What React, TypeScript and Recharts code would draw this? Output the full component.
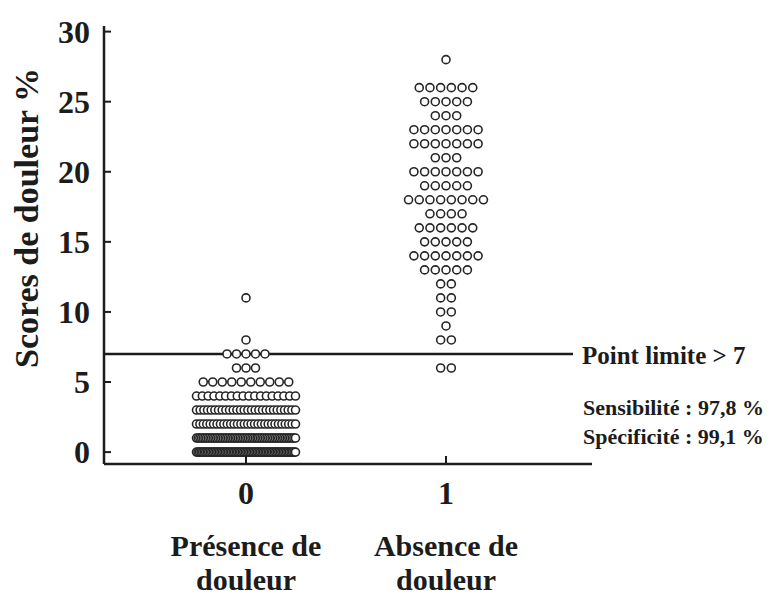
import React from 'react';
import {
  ScatterChart,
  Scatter,
  XAxis,
  YAxis,
  ReferenceLine
} from 'recharts';

// groups on the x axis
const categories = [0, 1];
const categoryLabels = [
  ['Présence de', 'douleur'],
  ['Absence de', 'douleur']
];

// pain scores and how many patients had each score, per group
const scoresPresence = [0, 1, 2, 3, 4, 5, 6, 7, 8, 11];
const countsPresence = [66, 60, 30, 28, 18, 10, 3, 5, 1, 1];
const scoresAbsence = [6, 8, 9, 10, 11, 12, 13, 14, 15, 16, 17, 18, 19, 20, 21, 22, 23, 24, 25, 26, 28];
const countsAbsence = [2, 2, 1, 2, 2, 2, 5, 7, 5, 6, 4, 8, 5, 7, 3, 7, 7, 3, 5, 6, 1];

const yTicks = [0, 5, 10, 15, 20, 25, 30];
const cutoff = 7;
const cutoffLabel = 'Point limite > 7';
const statLines = ['Sensibilité : 97,8 %', 'Spécificité : 99,1 %'];

const FONT = '"Liberation Serif", "Times New Roman", serif';
const INK = '#1c1c1c';

// dot plot layout: spread identical scores side by side around the group centre
const PX_PER_UNIT = 200;
const spreadDots = (group: number, scores: number[], counts: number[], step: number, maxSpan: number) => {
  const pts: { x: number; y: number }[] = [];
  scores.forEach((score, i) => {
    const n = counts[i];
    const gap = n > 1 ? Math.min(step, maxSpan / (n - 1)) : 0;
    for (let k = 0; k < n; k++) {
      pts.push({ x: group + ((k - (n - 1) / 2) * gap) / PX_PER_UNIT, y: score });
    }
  });
  return pts;
};

const presenceData = spreadDots(categories[0], scoresPresence, countsPresence, 9.5, 99);
const absenceData = spreadDots(categories[1], scoresAbsence, countsAbsence, 10.7, 99);

const Dot = (props: any) => {
  const { cx, cy } = props;
  if (cx == null || cy == null) return null;
  return <circle cx={cx} cy={cy} r={4} fill="#fff" stroke="#262626" strokeWidth={1.6} />;
};

const YTick = ({ x, y, payload }: any) => (
  <g>
    <line x1={x} x2={x + 7} y1={y} y2={y} stroke={INK} strokeWidth={2} />
    <text
      x={x - 14}
      y={y}
      textAnchor="end"
      dominantBaseline="central"
      fontFamily={FONT}
      fontWeight="bold"
      fontSize={32}
      fill={INK}
    >
      {payload.value}
    </text>
  </g>
);

const XTick = ({ x, y, payload }: any) => {
  const lines = categoryLabels[payload.value] || [];
  return (
    <g>
      <line x1={x} x2={x} y1={y} y2={y - 8} stroke={INK} strokeWidth={2} />
      <text
        x={x}
        y={y + 29}
        textAnchor="middle"
        dominantBaseline="central"
        fontFamily={FONT}
        fontWeight="bold"
        fontSize={32}
        fill={INK}
      >
        {payload.value}
      </text>
      {lines.map((l, i) => (
        <text
          key={l + i}
          x={x}
          y={y + 81 + i * 34}
          textAnchor="middle"
          dominantBaseline="central"
          fontFamily={FONT}
          fontWeight="bold"
          fontSize={30}
          fill={INK}
        >
          {l}
        </text>
      ))}
    </g>
  );
};

const CutoffLabel = ({ viewBox }: any) => {
  const endX = viewBox.x + viewBox.width + 9;
  const lineY = viewBox.y;
  return (
    <g fontFamily={FONT} fontWeight="bold" fill={INK}>
      <text x={endX} y={lineY + 2} dominantBaseline="central" fontSize={25}>
        {cutoffLabel}
      </text>
      {statLines.map((s, i) => (
        <text key={s} x={endX + 1} y={lineY + 54 + i * 29} dominantBaseline="central" fontSize={22}>
          {s}
        </text>
      ))}
    </g>
  );
};

const App: React.FC = () => {
  return (
    <div style={{ position: 'absolute', left: 0, top: 0, width: 784, height: 603, background: '#fff' }}>
      <ScatterChart width={784} height={603} margin={{ top: 26, right: 192, bottom: 99, left: 24 }}>
        <XAxis
          type="number"
          dataKey="x"
          domain={[-0.71, 1.73]}
          ticks={categories}
          allowDataOverflow
          height={40}
          tickSize={0}
          tickMargin={0}
          tickLine={false}
          axisLine={{ stroke: INK, strokeWidth: 2.5 }}
          tick={<XTick />}
        />
        <YAxis
          type="number"
          dataKey="y"
          domain={[-0.85, 30.4]}
          ticks={yTicks}
          allowDataOverflow
          width={80}
          tickSize={0}
          tickMargin={0}
          tickLine={false}
          axisLine={{ stroke: INK, strokeWidth: 2.5 }}
          tick={<YTick />}
          label={{
            content: () => (
              <text
                transform="translate(26,218) rotate(-90)"
                textAnchor="middle"
                dominantBaseline="central"
                fontFamily={FONT}
                fontWeight="bold"
                fontSize={34}
                fill={INK}
              >
                Scores de douleur %
              </text>
            )
          }}
        />
        <ReferenceLine
          segment={[{ x: -0.71, y: cutoff }, { x: 1.635, y: cutoff }]}
          stroke={INK}
          strokeWidth={2.5}
          label={<CutoffLabel />}
        />
        <Scatter data={presenceData} shape={<Dot />} isAnimationActive={false} />
        <Scatter data={absenceData} shape={<Dot />} isAnimationActive={false} />
      </ScatterChart>
    </div>
  );
};

export default App;
